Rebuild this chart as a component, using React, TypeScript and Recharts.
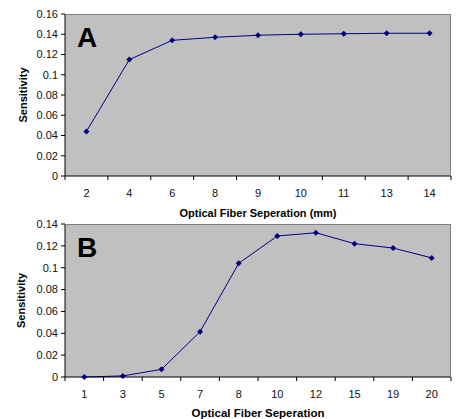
import { CartesianGrid, ComposedChart, Line, XAxis, YAxis } from "recharts";

const separationA = ["2", "4", "6", "8", "9", "10", "11", "13", "14"];
const sensitivityA = [0.044, 0.115, 0.134, 0.137, 0.139, 0.14, 0.1405, 0.141, 0.141];
const ticksA = [0, 0.02, 0.04, 0.06, 0.08, 0.1, 0.12, 0.14, 0.16];

const separationB = ["1", "3", "5", "7", "8", "10", "12", "15", "19", "20"];
const sensitivityB = [0, 0.001, 0.007, 0.0415, 0.104, 0.129, 0.132, 0.122, 0.118, 0.109];
const ticksB = [0, 0.02, 0.04, 0.06, 0.08, 0.1, 0.12, 0.14];

const dataA = separationA.map((x, i) => ({ x, y: sensitivityA[i] }));
const dataB = separationB.map((x, i) => ({ x, y: sensitivityB[i] }));

const PLOT_W = 386;
const FONT = "'Liberation Sans', Arial, sans-serif";

function Diamond(props: any) {
  const { cx, cy } = props;
  if (cx == null || cy == null) return null;
  return (
    <polygon
      points={`${cx},${cy - 3} ${cx + 3},${cy} ${cx},${cy + 3} ${cx - 3},${cy}`}
      fill="#000080"
    />
  );
}

// ticks sit between categories, like the original spreadsheet chart
function makeTick(count: number) {
  const bw = PLOT_W / count;
  return (props: any) => {
    const { x, y, payload, index } = props;
    return (
      <g>
        <line x1={x - bw / 2} x2={x - bw / 2} y1={y} y2={y + 4} stroke="#000" />
        {index === count - 1 && (
          <line x1={x + bw / 2} x2={x + bw / 2} y1={y} y2={y + 4} stroke="#000" />
        )}
        <text x={x} y={y + 21} textAnchor="middle" fontSize={11} fill="#111">
          {payload.value}
        </text>
      </g>
    );
  };
}

type PanelProps = {
  data: { x: string; y: number }[];
  ticks: number[];
  height: number;
  axisHeight: number;
  letter: string;
  xTitle: string;
  titleSize: number;
  titleOffset: number;
  yLabelOffset: number;
  top: number;
};

function Panel({ data, ticks, height, axisHeight, letter, xTitle, titleSize, titleOffset, yLabelOffset, top }: PanelProps) {
  const plotH = height - 14 - axisHeight;
  return (
    <div style={{ position: "absolute", left: 0, top, width: 458, height }}>
      <ComposedChart width={458} height={height} data={data} margin={{ top: 14, right: 7, bottom: 0, left: 15 }}>
        <CartesianGrid fill="#c0c0c0" stroke="none" horizontal={false} vertical={false} />
        <XAxis
          dataKey="x"
          scale="band"
          height={axisHeight}
          axisLine={{ stroke: "#000" }}
          tickLine={false}
          tickSize={0}
          tickMargin={0}
          interval={0}
          tick={makeTick(data.length)}
          label={{
            value: xTitle,
            position: "insideBottom",
            offset: titleOffset,
            fontSize: titleSize,
            fontWeight: "bold",
            fill: "#000",
            style: { fontSize: titleSize, fontWeight: "bold" },
          }}
        />
        <YAxis
          type="number"
          domain={[0, ticks[ticks.length - 1]]}
          ticks={ticks}
          interval={0}
          width={50}
          axisLine={{ stroke: "#000" }}
          tickLine={{ stroke: "#000" }}
          tickSize={4}
          tickMargin={3}
          tick={{ fontSize: 11, fill: "#111" }}
          tickFormatter={(v) => String(v)}
          label={{
            value: "Sensitivity",
            angle: -90,
            position: "insideLeft",
            offset: yLabelOffset,
            fontSize: 11,
            fontWeight: "bold",
            fill: "#000",
            style: { textAnchor: "middle", fontSize: 11, fontWeight: "bold" },
          }}
        />
        <Line
          dataKey="y"
          stroke="#000080"
          strokeWidth={1}
          dot={<Diamond />}
          activeDot={false}
          isAnimationActive={false}
        />
      </ComposedChart>
      <div
        style={{
          position: "absolute",
          left: 65,
          top: 14,
          width: PLOT_W,
          height: plotH,
          boxSizing: "border-box",
          borderTop: "1px solid #808080",
          borderRight: "1px solid #808080",
          pointerEvents: "none",
        }}
      />
      <div
        style={{
          position: "absolute",
          left: 77,
          top: 24,
          fontSize: 28,
          lineHeight: "28px",
          fontWeight: "bold",
          color: "#000",
        }}
      >
        {letter}
      </div>
    </div>
  );
}

export default function App() {
  return (
    <div style={{ position: "absolute", left: 0, top: 0, width: 458, height: 419, background: "#fff", fontFamily: FONT }}>
      <Panel
        data={dataA}
        ticks={ticksA}
        height={220}
        axisHeight={44}
        letter="A"
        xTitle="Optical Fiber Seperation (mm)"
        titleSize={11}
        titleOffset={3}
        yLabelOffset={8}
        top={0}
      />
      <Panel
        data={dataB}
        ticks={ticksB}
        height={209}
        axisHeight={42}
        letter="B"
        xTitle="Optical Fiber Seperation"
        titleSize={11.5}
        titleOffset={2}
        yLabelOffset={6}
        top={210}
      />
    </div>
  );
}
